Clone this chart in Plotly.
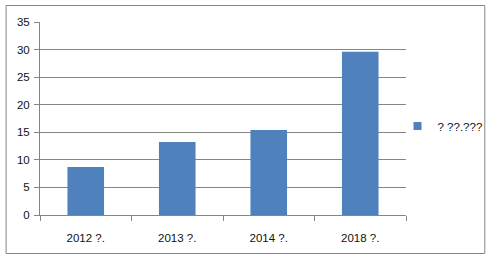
import plotly.graph_objects as go

categories = ["2012 ?.", "2013 ?.", "2014 ?.", "2018 ?."]
values = [8.7, 13.25, 15.4, 29.6]
series_name = "? ??.???"
y_ticks = [0, 5, 10, 15, 20, 25, 30, 35]

W, H = 491, 259
L, R, T, B = 39.5, 406.5, 22, 215
color = "#4F81BD"
grid = "#868686"
font = dict(family="Liberation Sans, Arial, sans-serif", size=11.5, color="#111111")

fig = go.Figure()
fig.add_trace(go.Bar(x=categories, y=values, marker=dict(color=color, line=dict(width=0)),
                     showlegend=False, width=0.4))
fig.add_trace(go.Scatter(x=[None], y=[None], mode="markers", name=series_name,
                         marker=dict(symbol="square", size=8, color=color)))

pw, ph = R - L, B - T
def px(x): return (x - L) / pw
def py(y): return (B - y) / ph

fig.add_shape(type="rect", xref="paper", yref="paper",
              x0=px(5.5), x1=px(485.5), y0=py(253.5), y1=py(5.5),
              line=dict(color=grid, width=1), fillcolor="rgba(0,0,0,0)", layer="below")

fig.update_layout(
    width=W, height=H,
    margin=dict(l=L, r=W - R, t=T, b=H - B, pad=0, autoexpand=False),
    paper_bgcolor="white", plot_bgcolor="white",
    font=font,
    bargap=0.6,
    legend=dict(x=px(398), y=py(126), xanchor="left", yanchor="middle",
                bgcolor="rgba(0,0,0,0)", font=font, itemwidth=30),
    xaxis=dict(showline=True, linecolor=grid, linewidth=1, ticks="outside",
               tickson="boundaries", ticklen=5, tickcolor=grid, showgrid=False,
               tickfont=font, ticklabelstandoff=12),
    yaxis=dict(range=[0, 35], tickvals=y_ticks, showline=True, linecolor=grid,
               linewidth=1, ticks="outside", ticklen=5, tickcolor=grid,
               showgrid=True, gridcolor=grid, gridwidth=1, zeroline=False,
               tickfont=font, ticklabelstandoff=2),
)
fig.write_html("out.html")
